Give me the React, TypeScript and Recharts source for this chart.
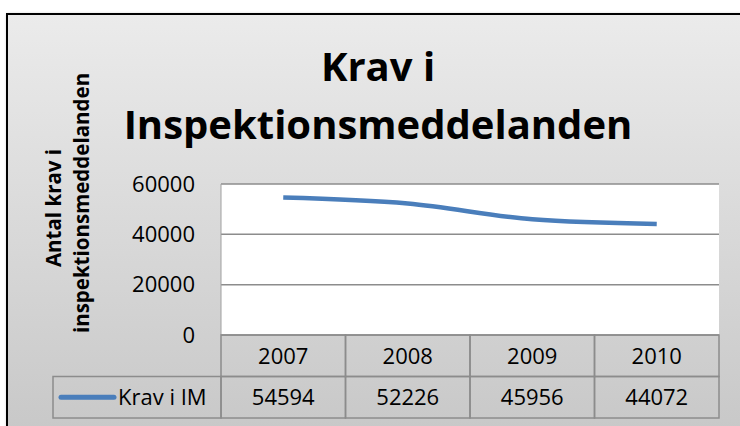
import { LineChart, Line, XAxis, YAxis, CartesianGrid } from 'recharts';

const YEARS = ['2007', '2008', '2009', '2010'];
const KRAV_I_IM = [54594, 52226, 45956, 44072];
const Y_TICKS = [0, 20000, 40000, 60000];
const SERIES_NAME = 'Krav i IM';
const TITLE = ['Krav i', 'Inspektionsmeddelanden'];
const Y_LABEL = ['Antal krav i', 'inspektionsmeddelanden'];

const data = YEARS.map((year, i) => ({ year, value: KRAV_I_IM[i] }));

const FONT = '"Open Sans", "Liberation Sans", sans-serif';
const LINE_COLOR = '#4a7ebb';
const GRID = '#8c8c8c';
const ROW_H = 41.5;

function TableTick(props: any) {
  const { x, y, payload, bandWidth } = props;
  const i = payload.index;
  const half = bandWidth / 2;
  return (
    <g>
      <rect x={x - half} y={y} width={bandWidth} height={ROW_H} fill="none" stroke={GRID} strokeWidth={1.5} />
      <rect x={x - half} y={y + ROW_H} width={bandWidth} height={ROW_H} fill="none" stroke={GRID} strokeWidth={1.5} />
      <text x={x} y={y + ROW_H / 2 + 8} textAnchor="middle" fontSize={22} fontFamily={FONT} fill="#000">
        {payload.value}
      </text>
      <text x={x} y={y + ROW_H * 1.5 + 8} textAnchor="middle" fontSize={22} fontFamily={FONT} fill="#000">
        {KRAV_I_IM[i]}
      </text>
      {i === 0 && (
        <g>
          <rect x={53} y={y + ROW_H} width={x - half - 53} height={ROW_H} fill="none" stroke={GRID} strokeWidth={1.5} />
          <line x1={61} y1={y + ROW_H * 1.5} x2={114} y2={y + ROW_H * 1.5} stroke={LINE_COLOR} strokeWidth={5} strokeLinecap="round" />
          <text x={118} y={y + ROW_H * 1.5 + 8} fontSize={22} fontFamily={FONT} fill="#000">
            {SERIES_NAME}
          </text>
        </g>
      )}
    </g>
  );
}

function YLabel() {
  return (
    <g fontFamily={FONT} fontWeight="bold" fontSize={20.5} fill="#000">
      <text transform="translate(61,208) rotate(-90)" textAnchor="middle">{Y_LABEL[0]}</text>
      <text transform="translate(89,203) rotate(-90)" textAnchor="middle">{Y_LABEL[1]}</text>
    </g>
  );
}

export default function App() {
  const plotLeft = 221;
  const plotRight = 719;
  const band = (plotRight - plotLeft) / YEARS.length;
  return (
    <div style={{ position: 'fixed', left: 0, top: 0, width: 740, height: 426, overflow: 'hidden', background: '#fff' }}>
      <div
        style={{
          position: 'absolute',
          left: 6,
          top: 13,
          width: 780,
          height: 440,
          border: '2px solid #000',
          background: 'linear-gradient(#ebebeb, #c6c6c6)',
          boxShadow: '1px 1px 3px rgba(0,0,0,0.3)',
        }}
      />
      <svg width={740} height={426} style={{ position: 'absolute', left: 0, top: 0 }}>
        <g fontFamily={FONT} fontWeight="bold" fontSize={40} fill="#000" textAnchor="middle">
          <text x={378} y={81}>{TITLE[0]}</text>
          <text x={378} y={139}>{TITLE[1]}</text>
        </g>
      </svg>
      <div style={{ position: 'absolute', left: 0, top: 0 }}>
        <LineChart width={740} height={426} data={data} margin={{ top: 184, right: 740 - plotRight, bottom: 8, left: 0 }}>
          <CartesianGrid vertical={false} stroke={GRID} strokeWidth={1.5} fill="#fff" />
          <XAxis
            dataKey="year"
            interval={0}
            axisLine={false}
            tickLine={false}
            tickSize={0}
            tickMargin={0}
            height={83}
            padding={{ left: band / 2, right: band / 2 }}
            tick={<TableTick bandWidth={band} />}
          />
          <YAxis
            width={plotLeft}
            domain={[0, 60000]}
            ticks={Y_TICKS}
            interval={0}
            axisLine={{ stroke: '#a0a0a0', strokeWidth: 1 }}
            tickLine={false}
            tickSize={0}
            tickMargin={26}
            tick={{ fontSize: 22, fontFamily: FONT, fill: '#000' }}
            label={<YLabel />}
          />
          <Line
            type="monotone"
            dataKey="value"
            name={SERIES_NAME}
            stroke={LINE_COLOR}
            strokeWidth={4.5}
            dot={false}
            activeDot={false}
            isAnimationActive={false}
          />
        </LineChart>
      </div>
    </div>
  );
}
